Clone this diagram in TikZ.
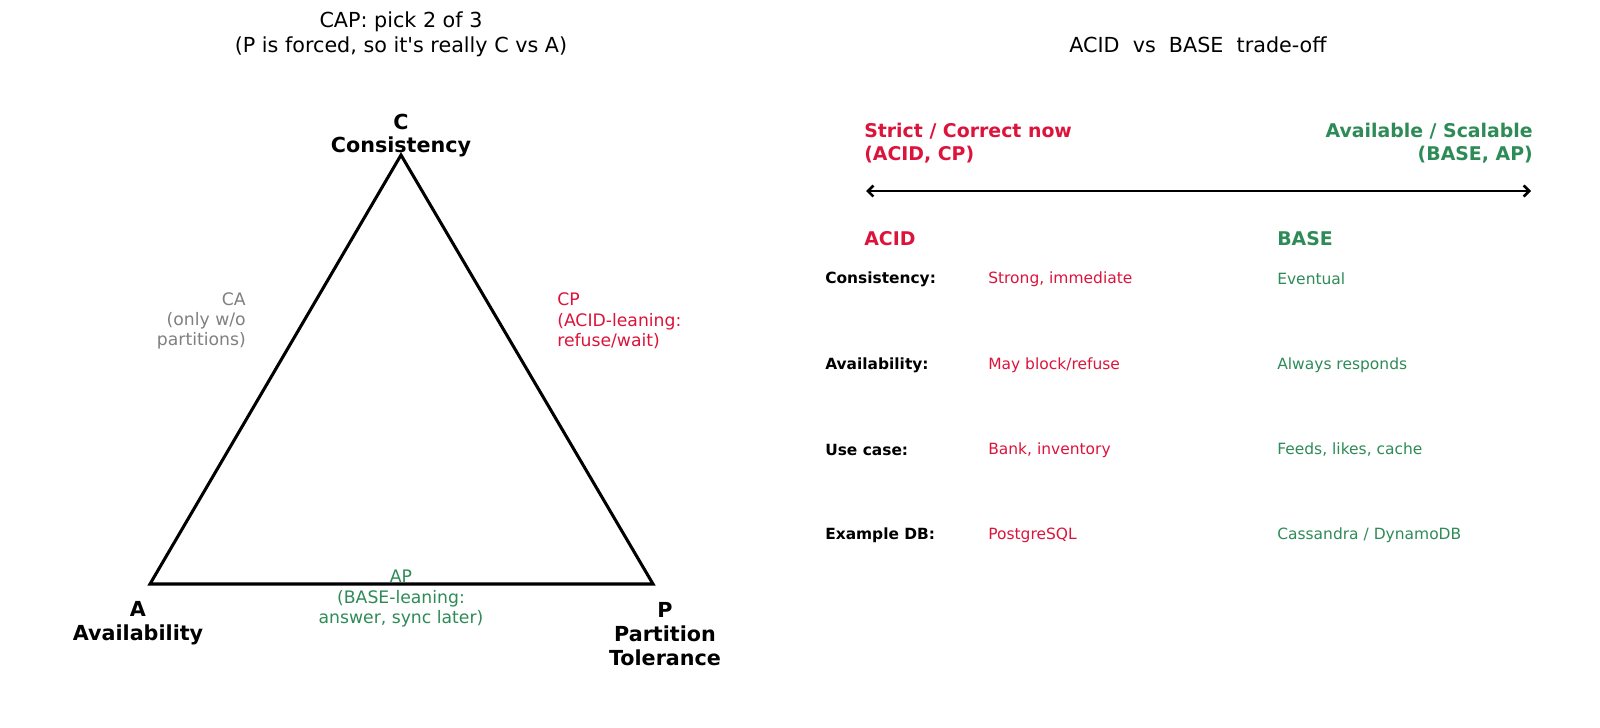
\documentclass[tikz,border=0pt]{standalone}
\usepackage{fontspec}
\setmainfont{DejaVu Sans}[Ligatures=TeXOff]
\usetikzlibrary{arrows.meta}
\definecolor{crim}{RGB}{220,20,60}
\definecolor{sgreen}{RGB}{46,139,87}
\definecolor{gry}{RGB}{128,128,128}
\tikzset{
  title/.style={inner sep=0pt, align=center, font=\fontsize{14.9}{17.9}\selectfont},
  vlabel/.style={inner sep=0pt, align=center, font=\bfseries\fontsize{14.9}{17.2}\selectfont},
  edgelabel/.style={inner sep=0pt, font=\fontsize{12.4}{14.6}\selectfont},
  sidehead/.style={inner sep=0pt, font=\bfseries\fontsize{13.6}{16.1}\selectfont},
  rowlabel/.style={inner sep=0pt, anchor=west, font=\bfseries\fontsize{11.1}{13.3}\selectfont},
  rowval/.style={inner sep=0pt, anchor=west, font=\fontsize{11.15}{13.4}\selectfont},
  tri/.style={line width=2.2pt, line join=miter},
  spectrum/.style={line width=1.9pt, {Straight Barb[length=4pt,width=8pt,line width=1.9pt]}-{Straight Barb[length=4pt,width=8pt,line width=1.9pt]}}
}
\begin{document}
\begin{tikzpicture}[x=0.72pt,y=-0.72pt]
\useasboundingbox[fill=white] (0,0) rectangle (1600,727);
% ---------- left: CAP triangle ----------
\node[title] (ltitle) at (401,34) {CAP: pick 2 of 3\\(P is forced, so it's really C vs A)};
\coordinate (C) at (401,155);
\coordinate (A) at (150,584);
\coordinate (P) at (653,584);
\draw[tri] (C) -- (A) -- (P) -- cycle;
\node[vlabel] (Clab) at (401,135.5) {C\\Consistency};
\node[vlabel] (Alab) at (138,623.5) {A\\Availability};
\node[vlabel] (Plab) at (665,634) {P\\Partition\\Tolerance};
\node[edgelabel, text=gry, align=right, anchor=east] (CA) at (246,321) {CA\\(only w/o\\partitions)};
\node[edgelabel, text=crim, align=left, anchor=west] (CP) at (557,321) {CP\\(ACID-leaning:\\refuse/wait)};
\node[edgelabel, text=sgreen, align=center] (AP) at (401,598.5) {AP\\(BASE-leaning:\\answer, sync later)};
% ---------- right: ACID vs BASE ----------
\node[title] (rtitle) at (1198,45) {ACID\ \ vs\ \ BASE\ \ trade-off};
\node[sidehead, text=crim, align=left, anchor=west] (strict) at (864,143) {Strict / Correct now\\(ACID, CP)};
\node[sidehead, text=sgreen, align=right, anchor=east] (avail) at (1533,143) {Available / Scalable\\(BASE, AP)};
\coordinate (sl) at (866,191);
\coordinate (sr) at (1531,191);
\draw[spectrum] (sl) -- (sr);
\node[sidehead, text=crim, anchor=west] (acid) at (864,239) {ACID};
\node[sidehead, text=sgreen, anchor=west] (base) at (1277,239) {BASE};
\node[rowlabel] (r1) at (825,279) {Consistency:};
\node[rowval, text=crim] (a1) at (988,279) {Strong, immediate};
\node[rowval, text=sgreen] (b1) at (1277,279) {Eventual};
\node[rowlabel] (r2) at (825,365) {Availability:};
\node[rowval, text=crim] (a2) at (988,365) {May block/refuse};
\node[rowval, text=sgreen] (b2) at (1277,365) {Always responds};
\node[rowlabel] (r3) at (825,450) {Use case:};
\node[rowval, text=crim] (a3) at (988,450) {Bank, inventory};
\node[rowval, text=sgreen] (b3) at (1277,450) {Feeds, likes, cache};
\node[rowlabel] (r4) at (825,535) {Example DB:};
\node[rowval, text=crim] (a4) at (988,535) {PostgreSQL};
\node[rowval, text=sgreen] (b4) at (1277,535) {Cassandra / DynamoDB};
\end{tikzpicture}
\end{document}
